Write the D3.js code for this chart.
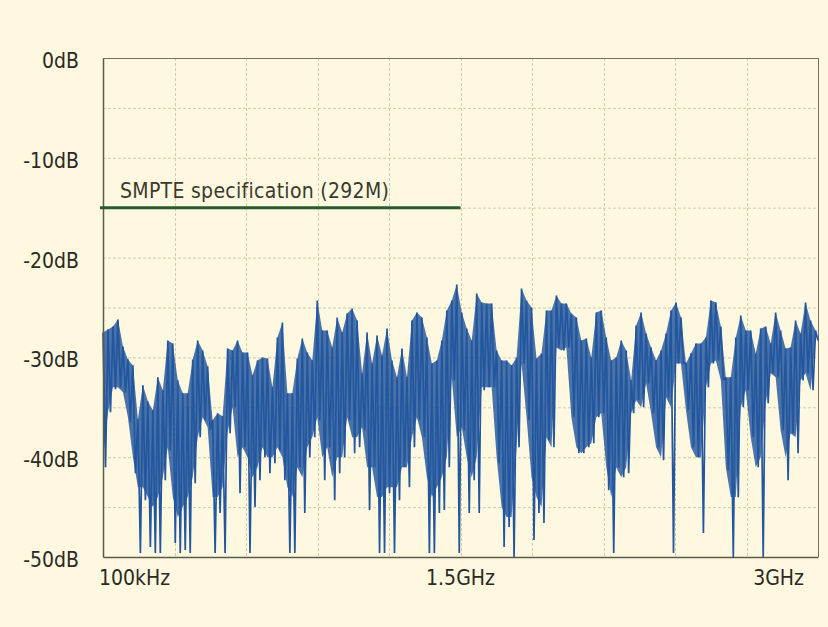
<!DOCTYPE html>
<html>
<head>
<meta charset="utf-8">
<script src="https://cdn.jsdelivr.net/npm/d3@7"></script>
<style>
  html, body { margin: 0; padding: 0; background: #ffffff; }
  svg { display: block; }
  text { font-family: "Liberation Sans Narrow", "DejaVu Sans Condensed", "Arial Narrow", sans-serif; fill: #2b2a22; }
</style>
</head>
<body>
<svg id="chart" width="828" height="627"></svg>
<script>
// ---- data ----
const yTickValues = [0, -10, -20, -30, -40, -50];
const yTickLabels = ["0dB", "-10dB", "-20dB", "-30dB", "-40dB", "-50dB"];
const yGridValues = [0, -5, -10, -15, -20, -25, -30, -35, -40, -45, -50];
const xTickValues = [0.0001, 1.5, 3];            // GHz
const xTickLabels = ["100kHz", "1.5GHz", "3GHz"];
const xGridValues = [0, 0.3, 0.6, 0.9, 1.2, 1.5, 1.8, 2.1, 2.4, 2.7, 3.0];
const startFreq = 0.0001;  // GHz (100 kHz)
const stopFreq = 3.0;      // GHz
const specLabel = "SMPTE specification (292M)";
const specLevel = -15;     // dB
const specStart = 0.0001;  // GHz
const specStop = 1.5;      // GHz

// measured return loss trace (dB), alternating peak / deepest-dip readings per sweep bin
const traceDb = [
  -27.5,-41, -27.2,-35.5, -26.9,-33.2, -26.2,-33, -28.9,-33.5, -30.2,-36.5, -30.8,-41.6, -36.2,-49.6,
  -32.8,-44.3, -34.4,-49, -35.3,-49.6, -32,-49.6, -33.3,-42.3, -28.3,-39.3, -28.6,-48.6, -32.3,-49.6,
  -33.6,-49.3, -33.6,-49.6, -30.2,-42.6, -28.3,-38, -29.3,-36.3, -30.9,-37.3, -36.3,-49.6, -35.6,-45.6,
  -35.9,-49.6, -29.1,-37.6, -29.3,-35, -28.3,-43.6, -29.5,-39, -29.5,-49.6, -31.8,-45, -30.3,-42.3,
  -30,-40, -30.1,-41.6, -33,-40.6, -28,-39.3, -26.5,-42.3, -33.6,-49.6, -33.6,-49.6, -30.1,-41,
  -28.1,-45.6, -29.5,-40, -30.3,-38, -24.3,-36.3, -27.3,-42.3, -27.3,-39, -29,-44.3, -26,-41.6,
  -27.5,-40, -25.6,-36.3, -25.1,-39.6, -26.3,-39, -31.6,-37.3, -27.5,-45.3, -30.6,-41, -27.8,-49.6,
  -29.8,-49.6, -27.1,-43.6, -30.3,-49.6, -32,-44.3, -29.1,-41, -32,-43, -26.3,-39, -25.5,-36.3,
  -26,-38, -28,-49.6, -30.6,-49.6, -30.3,-45.6, -28.3,-45.3, -25.3,-41, -24.3,-32.3, -22.7,-49.6,
  -25.5,-37.3, -27.1,-45.6, -28.3,-42.3, -23.6,-45.6, -24.5,-33.3, -24.6,-33, -24.6,-33, -29.3,-40.6,
  -30.3,-49, -30.3,-47, -30.8,-50, -30,-39, -23.1,-30.6, -24.3,-36.3, -25,-48.3, -30.1,-45.6,
  -29.6,-46.6, -25.3,-38.3, -25.3,-39, -23.8,-29, -24.6,-29.3, -24.6,-29, -25.6,-36, -26,-39.6,
  -28.3,-39.6, -28.1,-39, -30,-38.6, -25.5,-36, -25.3,-35.6, -28,-43.3, -30.3,-49.6, -30,-41,
  -28.3,-42, -29.3,-41.6, -32.3,-35.6, -26.8,-34.3, -25.5,-35, -27.6,-32.6, -29,-35.6, -30.3,-39,
  -29.3,-40.3, -27.6,-34, -25.3,-49.6, -24.5,-30.6, -26,-30.6, -30.6,-35.3, -29.6,-39, -28.6,-40,
  -28.6,-47.6, -28,-33, -24.3,-30.6, -24.5,-30.3, -26.9,-32.3, -32,-41.3, -32,-50, -28,-44,
  -25.8,-35, -27.3,-33.3, -27.3,-38, -29.6,-41, -27.1,-50, -26.9,-34.6, -28.6,-31.6, -25.5,-32,
  -27.3,-37.3, -29.1,-42.3, -29,-37.6, -26.3,-39.6, -27.6,-32.3, -24.5,-31.6, -26.3,-33.3, -27.3,-28.3
];

// lower edge of the dense part of the trace, one reading per sweep bin
const bodyLowDb = [
  -40,-35.5,-33,-33,-33.5,-36,-40,-43, -43,-44,-45,-44,-42,-39,-44,-46, -45,-44,-42,-38,-36,-37,-44,-44,
  -43,-37.5,-35,-40,-39,-40,-42,-41, -39,-40,-40,-39,-40,-43,-44,-41, -42,-39,-38,-36,-40,-39,-42,-40,
  -40,-36,-38,-38,-37,-41,-41,-44, -44,-43,-43,-43,-41,-41,-38,-36, -38,-42,-44,-43,-42,-40,-32,-38,
  -37,-40,-42,-40,-33,-33,-33,-40, -45,-46,-46,-39,-30.6,-36,-42,-44, -45,-38,-39,-29,-29.3,-29,-36,-39,
  -39.6,-39,-38.6,-36,-35.6,-41,-44,-41, -42,-41,-35.6,-34.3,-35,-32.6,-35.6,-39, -40,-34,-35,-30.6,-30.6,-35.3,-39,-40,
  -40,-33,-30.6,-30.3,-32.3,-41,-44,-44, -35,-33.3,-38,-41,-40,-34.6,-31.6,-32, -37.3,-40,-37.6,-38,-32.3,-31.6,-33.3,-28.3
];

// ---- layout ----
const W = 828, H = 627;
const margin = { left: 103, top: 58, right: 10, bottom: 70 };
const innerW = W - margin.left - margin.right;   // 715
const innerH = H - margin.top - margin.bottom;   // 499

const svg = d3.select("#chart");
svg.append("rect").attr("width", W).attr("height", H).attr("fill", "#fdf8df");

const x = d3.scaleLinear().domain([0, 3]).range([margin.left, margin.left + innerW]);
const y = d3.scaleLinear().domain([0, -50]).range([margin.top, margin.top + innerH]);

// grid
const grid = svg.append("g").attr("class", "grid");
grid.selectAll("line.h").data(yGridValues.slice(1, -1)).join("line")
  .attr("x1", x(0)).attr("x2", x(3))
  .attr("y1", d => y(d) + 0.5).attr("y2", d => y(d) + 0.5)
  .attr("stroke", "#d3cbab").attr("stroke-width", 1).attr("stroke-dasharray", "3,2");
grid.selectAll("line.v").data(xGridValues.slice(1, -1)).join("line")
  .attr("x1", d => Math.round(x(d)) + 0.5).attr("x2", d => Math.round(x(d)) + 0.5)
  .attr("y1", y(0)).attr("y2", y(-50))
  .attr("stroke", "#d3cbab").attr("stroke-width", 1).attr("stroke-dasharray", "3,2");

// frame: top & right lighter
svg.append("line").attr("x1", x(0)).attr("x2", x(3)).attr("y1", y(0) + 0.5).attr("y2", y(0) + 0.5)
  .attr("stroke", "#77725e").attr("stroke-width", 1);
svg.append("line").attr("x1", x(3) + 0.5).attr("x2", x(3) + 0.5).attr("y1", y(0)).attr("y2", y(-50))
  .attr("stroke", "#77725e").attr("stroke-width", 1);

// trace
const n = traceDb.length;
const fx = d3.scaleLinear().domain([0, n - 1]).range([startFreq, stopFreq]);
const bins = bodyLowDb.map((lo, k) => ({ i: 2 * k, hi: traceDb[2 * k], lo: lo }));
const band = d3.area()
  .x(d => x(fx(d.i)))
  .y0(d => y(d.lo))
  .y1(d => y(d.hi));
svg.append("path").datum(bins)
  .attr("d", band)
  .attr("fill", "#22569e")
  .attr("fill-opacity", 0.82);

const line = d3.line().x((d, i) => x(fx(i))).y(d => y(d));
svg.append("path").datum(traceDb)
  .attr("d", line)
  .attr("fill", "none")
  .attr("stroke", "#22569e")
  .attr("stroke-width", 1.7)
  .attr("stroke-linejoin", "bevel");

// axes (left and bottom)
const xAxis = d3.axisBottom(x).tickValues([]).tickSize(0);
svg.append("g").attr("transform", `translate(0,${y(-50)})`).call(xAxis)
  .select(".domain").attr("stroke", "#5e5a48").attr("stroke-width", 1.5);
const yAxis = d3.axisLeft(y).tickValues([]).tickSize(0);
svg.append("g").attr("transform", `translate(${x(0)},0)`).call(yAxis)
  .select(".domain").attr("stroke", "#5e5a48").attr("stroke-width", 1.5);

// y tick labels
svg.append("g").selectAll("text").data(yTickValues).join("text")
  .attr("x", 79).attr("y", d => y(d) + 10)
  .attr("text-anchor", "end")
  .style("font-size", "21px")
  .text((d, i) => yTickLabels[i]);

// x tick labels
const xAnchors = ["start", "middle", "end"];
const xOffsets = [-4, 0, -14];
svg.append("g").selectAll("text").data(xTickValues).join("text")
  .attr("x", (d, i) => x(d) + xOffsets[i]).attr("y", 585)
  .attr("text-anchor", (d, i) => xAnchors[i])
  .style("font-size", "21px")
  .text((d, i) => xTickLabels[i]);

// SMPTE spec line
svg.append("line")
  .attr("x1", x(specStart) - 3).attr("x2", x(specStop))
  .attr("y1", y(specLevel)).attr("y2", y(specLevel))
  .attr("stroke", "#285a2c").attr("stroke-width", 3);
svg.append("text")
  .attr("x", 120).attr("y", y(specLevel) - 10)
  .style("font-size", "21px").style("fill", "#3a3a2c")
  .style("letter-spacing", "0.3px")
  .text(specLabel);
</script>
</body>
</html>
